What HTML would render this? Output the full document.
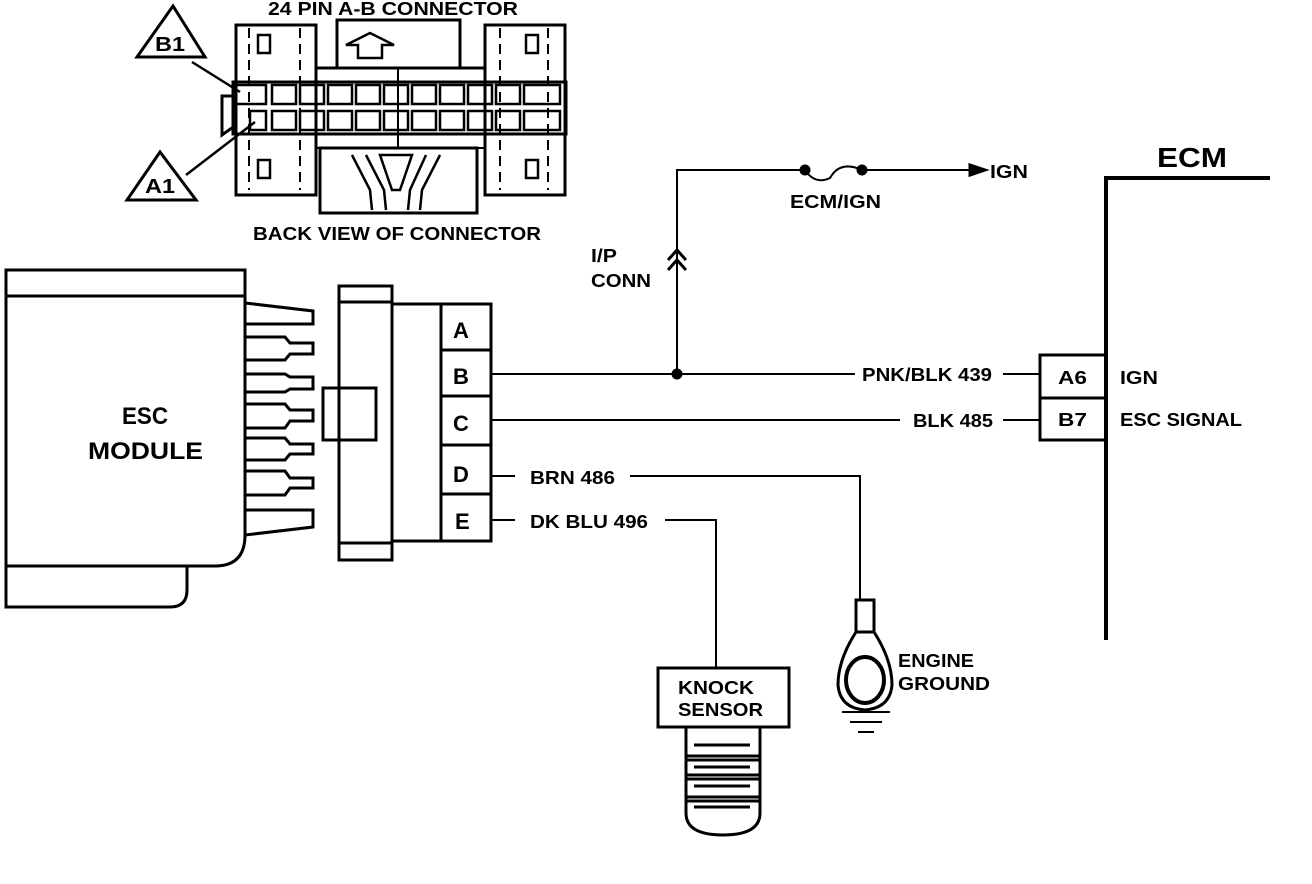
<!DOCTYPE html>
<html><head><meta charset="utf-8"><style>
html,body{margin:0;padding:0;background:#fff}
svg{display:block}
text{font-family:"Liberation Sans",sans-serif;font-weight:bold;fill:#000}
</style></head><body>
<svg width="1312" height="884" viewBox="0 0 1312 884" xmlns="http://www.w3.org/2000/svg">
<g fill="none" stroke="#000" stroke-width="3">
<polygon points="173,6 137,57 205,57" stroke-width="3"/>
<polygon points="160,152 127,200 196,200"/>
<line x1="192" y1="62" x2="240" y2="92" stroke-width="2.5"/>
<line x1="186" y1="175" x2="255" y2="122" stroke-width="2.5"/>
<rect x="236" y="25" width="80" height="170"/>
<rect x="485" y="25" width="80" height="170"/>
<rect x="337" y="20" width="123" height="48"/>
<rect x="320" y="148" width="157" height="65"/>
<rect x="233" y="82" width="333" height="52"/>
<line x1="316" y1="68" x2="485" y2="68"/>
<line x1="316" y1="148" x2="485" y2="148" stroke-width="2"/>
<line x1="398" y1="68" x2="398" y2="148" stroke-width="2"/>
<line x1="249" y1="28" x2="249" y2="190" stroke-dasharray="10,6" stroke-width="2"/>
<line x1="300" y1="28" x2="300" y2="190" stroke-dasharray="10,6" stroke-width="2"/>
<line x1="500" y1="28" x2="500" y2="190" stroke-dasharray="10,6" stroke-width="2"/>
<line x1="548" y1="28" x2="548" y2="190" stroke-dasharray="10,6" stroke-width="2"/>
<rect x="258" y="35" width="12" height="18" stroke-width="2.5"/>
<rect x="258" y="160" width="12" height="18" stroke-width="2.5"/>
<rect x="526" y="35" width="12" height="18" stroke-width="2.5"/>
<rect x="526" y="160" width="12" height="18" stroke-width="2.5"/>
<polygon points="346,45 370,33 394,45 382,45 382,58 358,58 358,45" stroke-width="2.5"/>
<g stroke-width="2.5">
<rect x="236" y="85" width="30" height="19"/><rect x="272" y="85" width="24" height="19"/><rect x="300" y="85" width="24" height="19"/><rect x="328" y="85" width="24" height="19"/><rect x="356" y="85" width="24" height="19"/><rect x="384" y="85" width="24" height="19"/><rect x="412" y="85" width="24" height="19"/><rect x="440" y="85" width="24" height="19"/><rect x="468" y="85" width="24" height="19"/><rect x="496" y="85" width="24" height="19"/><rect x="524" y="85" width="36" height="19"/>
<rect x="250" y="111" width="16" height="19"/><rect x="272" y="111" width="24" height="19"/><rect x="300" y="111" width="24" height="19"/><rect x="328" y="111" width="24" height="19"/><rect x="356" y="111" width="24" height="19"/><rect x="384" y="111" width="24" height="19"/><rect x="412" y="111" width="24" height="19"/><rect x="440" y="111" width="24" height="19"/><rect x="468" y="111" width="24" height="19"/><rect x="496" y="111" width="24" height="19"/><rect x="524" y="111" width="36" height="19"/>
</g>
<polyline points="236,96 222,96 222,135 236,125" />
<path d="M352,155 L370,190 L372,210 M366,155 L384,190 L386,210 M440,155 L422,190 L420,210 M426,155 L410,190 L408,210 M380,155 L412,155 L400,190 L392,190 Z" stroke-width="2.5"/>
<rect x="6" y="270" width="239" height="26"/>
<path d="M6,296 V566 H215 Q245,566 245,535 V296"/>
<path d="M6,566 V607 H170 Q187,607 187,590 V566"/>
<g stroke-width="3">
<polyline points="245,303 313,311 313,324 245,324"/>
<polyline points="245,337 285,337 290,343 313,343 313,354 290,354 285,360 245,360"/>
<polyline points="245,374 285,374 290,377 313,377 313,389 290,389 285,392 245,392"/>
<polyline points="245,404 285,404 290,410 313,410 313,421 290,421 285,428 245,428"/>
<polyline points="245,438 285,438 290,444 313,444 313,454 290,454 285,460 245,460"/>
<polyline points="245,471 285,471 290,478 313,478 313,488 290,488 285,495 245,495"/>
<polyline points="245,510 313,510 313,527 245,535"/>
</g>
<rect x="339" y="286" width="53" height="274"/>
<line x1="339" y1="302" x2="392" y2="302"/>
<line x1="339" y1="543" x2="392" y2="543"/>
<rect x="392" y="304" width="99" height="237"/>
<line x1="441" y1="304" x2="441" y2="541"/>
<line x1="441" y1="350" x2="491" y2="350"/>
<line x1="441" y1="396" x2="491" y2="396"/>
<line x1="441" y1="445" x2="491" y2="445"/>
<line x1="441" y1="494" x2="491" y2="494"/>
<rect x="323" y="388" width="53" height="52"/>
<g stroke-width="2">
<line x1="491" y1="374" x2="855" y2="374"/>
<line x1="1003" y1="374" x2="1040" y2="374"/>
<line x1="491" y1="420" x2="900" y2="420"/>
<line x1="1003" y1="420" x2="1040" y2="420"/>
<line x1="491" y1="476" x2="515" y2="476"/>
<polyline points="630,476 860,476 860,600"/>
<line x1="491" y1="520" x2="515" y2="520"/>
<polyline points="665,520 716,520 716,668"/>
<polyline points="677,374 677,170 805,170"/>
<line x1="862" y1="170" x2="972" y2="170"/>
<path d="M805,170 Q815,185 830,178 Q840,160 862,170"/>
</g>
<polygon points="970,165 985,170 970,175" fill="#000"/>
<circle cx="677" cy="374" r="4" fill="#000"/>
<circle cx="805" cy="170" r="4" fill="#000"/>
<circle cx="862" cy="170" r="4" fill="#000"/>
<polyline points="668,260 677,250 686,260" stroke-width="3"/>
<polyline points="668,270 677,260 686,270" stroke-width="3"/>
<polyline points="1106,640 1106,178 1270,178" stroke-width="4"/>
<rect x="1040" y="355" width="66" height="85"/>
<line x1="1040" y1="398" x2="1106" y2="398"/>
<rect x="658" y="668" width="131" height="59"/>
<path d="M686,727 V813 Q686,835 723,835 Q760,835 760,813 V727"/>
<line x1="686" y1="756" x2="760" y2="756"/>
<line x1="686" y1="760" x2="760" y2="760"/>
<line x1="686" y1="775" x2="760" y2="775"/>
<line x1="686" y1="779" x2="760" y2="779"/>
<line x1="686" y1="797" x2="760" y2="797"/>
<line x1="686" y1="801" x2="760" y2="801"/>
<line x1="694" y1="745" x2="750" y2="745" stroke-width="3"/>
<line x1="694" y1="767" x2="750" y2="767" stroke-width="3"/>
<line x1="694" y1="786" x2="750" y2="786" stroke-width="3"/>
<line x1="694" y1="807" x2="750" y2="807" stroke-width="3"/>
<rect x="856" y="600" width="18" height="32"/>
<path d="M856,632 Q838,660 838,685 Q840,708 865,710 Q890,708 892,685 Q892,660 874,632"/>
<ellipse cx="865" cy="680" rx="19" ry="23" stroke-width="4"/>
<line x1="842" y1="712" x2="890" y2="712" stroke-width="2"/>
<line x1="850" y1="722" x2="882" y2="722" stroke-width="2"/>
<line x1="858" y1="732" x2="874" y2="732" stroke-width="2"/>
</g>
<g font-size="18">
<text x="268" y="15" textLength="250" lengthAdjust="spacingAndGlyphs">24 PIN A-B  CONNECTOR</text>
<text x="253" y="240" textLength="288" lengthAdjust="spacingAndGlyphs">BACK VIEW OF CONNECTOR</text>
<text x="155" y="51" font-size="20" textLength="30" lengthAdjust="spacingAndGlyphs">B1</text>
<text x="145" y="193" font-size="20" textLength="30" lengthAdjust="spacingAndGlyphs">A1</text>
<text x="591" y="262" textLength="26" lengthAdjust="spacingAndGlyphs">I/P</text>
<text x="591" y="287" textLength="60" lengthAdjust="spacingAndGlyphs">CONN</text>
<text x="790" y="208" textLength="91" lengthAdjust="spacingAndGlyphs">ECM/IGN</text>
<text x="990" y="178" textLength="38" lengthAdjust="spacingAndGlyphs">IGN</text>
<text x="862" y="381" textLength="130" lengthAdjust="spacingAndGlyphs">PNK/BLK 439</text>
<text x="913" y="427" textLength="80" lengthAdjust="spacingAndGlyphs">BLK 485</text>
<text x="530" y="484" textLength="85" lengthAdjust="spacingAndGlyphs">BRN 486</text>
<text x="530" y="528" textLength="118" lengthAdjust="spacingAndGlyphs">DK BLU 496</text>
<text x="1058" y="384" textLength="29" lengthAdjust="spacingAndGlyphs">A6</text>
<text x="1058" y="426" textLength="29" lengthAdjust="spacingAndGlyphs">B7</text>
<text x="1120" y="384" textLength="38" lengthAdjust="spacingAndGlyphs">IGN</text>
<text x="1120" y="426" textLength="122" lengthAdjust="spacingAndGlyphs">ESC SIGNAL</text>
<text x="678" y="694" textLength="76" lengthAdjust="spacingAndGlyphs">KNOCK</text>
<text x="678" y="716" textLength="85" lengthAdjust="spacingAndGlyphs">SENSOR</text>
<text x="898" y="667" textLength="76" lengthAdjust="spacingAndGlyphs">ENGINE</text>
<text x="898" y="690" textLength="92" lengthAdjust="spacingAndGlyphs">GROUND</text>
</g>
<g font-size="22">
<text x="453" y="338">A</text>
<text x="453" y="384">B</text>
<text x="453" y="431">C</text>
<text x="453" y="482">D</text>
<text x="455" y="529">E</text>
<text x="122" y="424" font-size="24" textLength="46" lengthAdjust="spacingAndGlyphs">ESC</text>
<text x="88" y="459" font-size="24" textLength="115" lengthAdjust="spacingAndGlyphs">MODULE</text>
<text x="1157" y="167" font-size="28" textLength="70" lengthAdjust="spacingAndGlyphs">ECM</text>
</g>
</svg>
</body></html>
